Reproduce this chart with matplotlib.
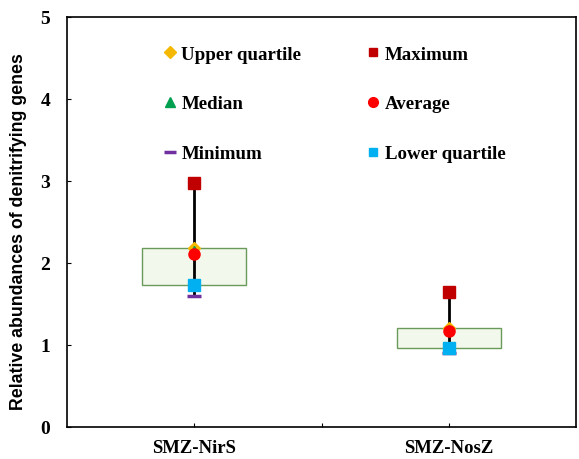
import matplotlib
matplotlib.use("Agg")
import matplotlib.pyplot as plt
from matplotlib.patches import Rectangle
from matplotlib.lines import Line2D

# data
genes = ["SMZ-NirS", "SMZ-NosZ"]
maximum = [2.97, 1.65]
upper_q = [2.18, 1.21]
median = [2.16, 1.19]
average = [2.11, 1.17]
lower_q = [1.73, 0.96]
minimum = [1.60, 0.90]

plt.rcParams['font.family'] = ['Liberation Serif', 'DejaVu Serif']

fig = plt.figure(figsize=(5.79, 4.6), dpi=100)
ax = fig.add_axes([67/579, 32/460, 509/579, 410/460])

xs = [1, 2]
box_w = 0.41
for x, lo, hi in zip(xs, lower_q, upper_q):
    ax.add_patch(Rectangle((x - box_w/2, lo), box_w, hi - lo,
                           facecolor='#f2f8ec', edgecolor='#6a9a5a', lw=1.0, zorder=1))

for x, lo, hi in zip(xs, minimum, maximum):
    ax.plot([x, x], [lo, hi], color='black', lw=2, zorder=2)

ms = 8
ax.plot(xs, minimum, ls='none', marker='_', ms=10, mew=2.5, color='#7030a0', zorder=3)
ax.plot(xs, lower_q, ls='none', marker='s', ms=ms, color='#00b0f0', zorder=4)
ax.plot(xs, upper_q, ls='none', marker='D', ms=6, color='#f5b800', zorder=3)
ax.plot(xs, median, ls='none', marker='^', ms=6, color='#00a050', zorder=3)
ax.plot(xs, average, ls='none', marker='o', ms=ms, color='#ff0000', zorder=4)
ax.plot(xs, maximum, ls='none', marker='s', ms=ms, color='#c00000', zorder=4)

handles = [
    Line2D([], [], ls='none', marker='D', ms=6, color='#f5b800', label='Upper quartile'),
    Line2D([], [], ls='none', marker='^', ms=7, color='#00a050', label='Median'),
    Line2D([], [], ls='none', marker='_', ms=9, mew=2.5, color='#7030a0', label='Minimum'),
    Line2D([], [], ls='none', marker='s', ms=6, color='#c00000', label='Maximum'),
    Line2D([], [], ls='none', marker='o', ms=7, color='#ff0000', label='Average'),
    Line2D([], [], ls='none', marker='s', ms=6, color='#00b0f0', label='Lower quartile'),
]
ax.legend(handles=handles, ncol=2, loc='upper left', bbox_to_anchor=(0.158, 0.972),
          frameon=False, handlelength=0.6, handletextpad=0.3, labelspacing=1.72,
          columnspacing=3.5, prop={'family': 'Liberation Serif', 'weight': 'bold', 'size': 13.6})

ax.set_xlim(0.5, 2.5)
ax.set_ylim(0, 5)
ax.set_xticks([1, 1.5, 2])
ax.set_xticklabels([genes[0], '', genes[1]], fontsize=13.5, fontweight='bold')
ax.set_yticks([0, 1, 2, 3, 4, 5])
ax.set_yticklabels(['0', '1', '2', '3', '4', '5'], fontsize=14, fontweight='bold')
ax.tick_params(axis='y', direction='in', length=3, pad=12)
ax.tick_params(axis='x', direction='in', length=3, pad=9)
for s in ax.spines.values():
    s.set_linewidth(1.2)

ax.set_ylabel('Relative abundances of denitrifying genes', fontsize=12.8, fontweight='bold',
              family='Liberation Sans')
ax.yaxis.set_label_coords(-0.078, 0.48)

fig.savefig('out.png', dpi=100)
